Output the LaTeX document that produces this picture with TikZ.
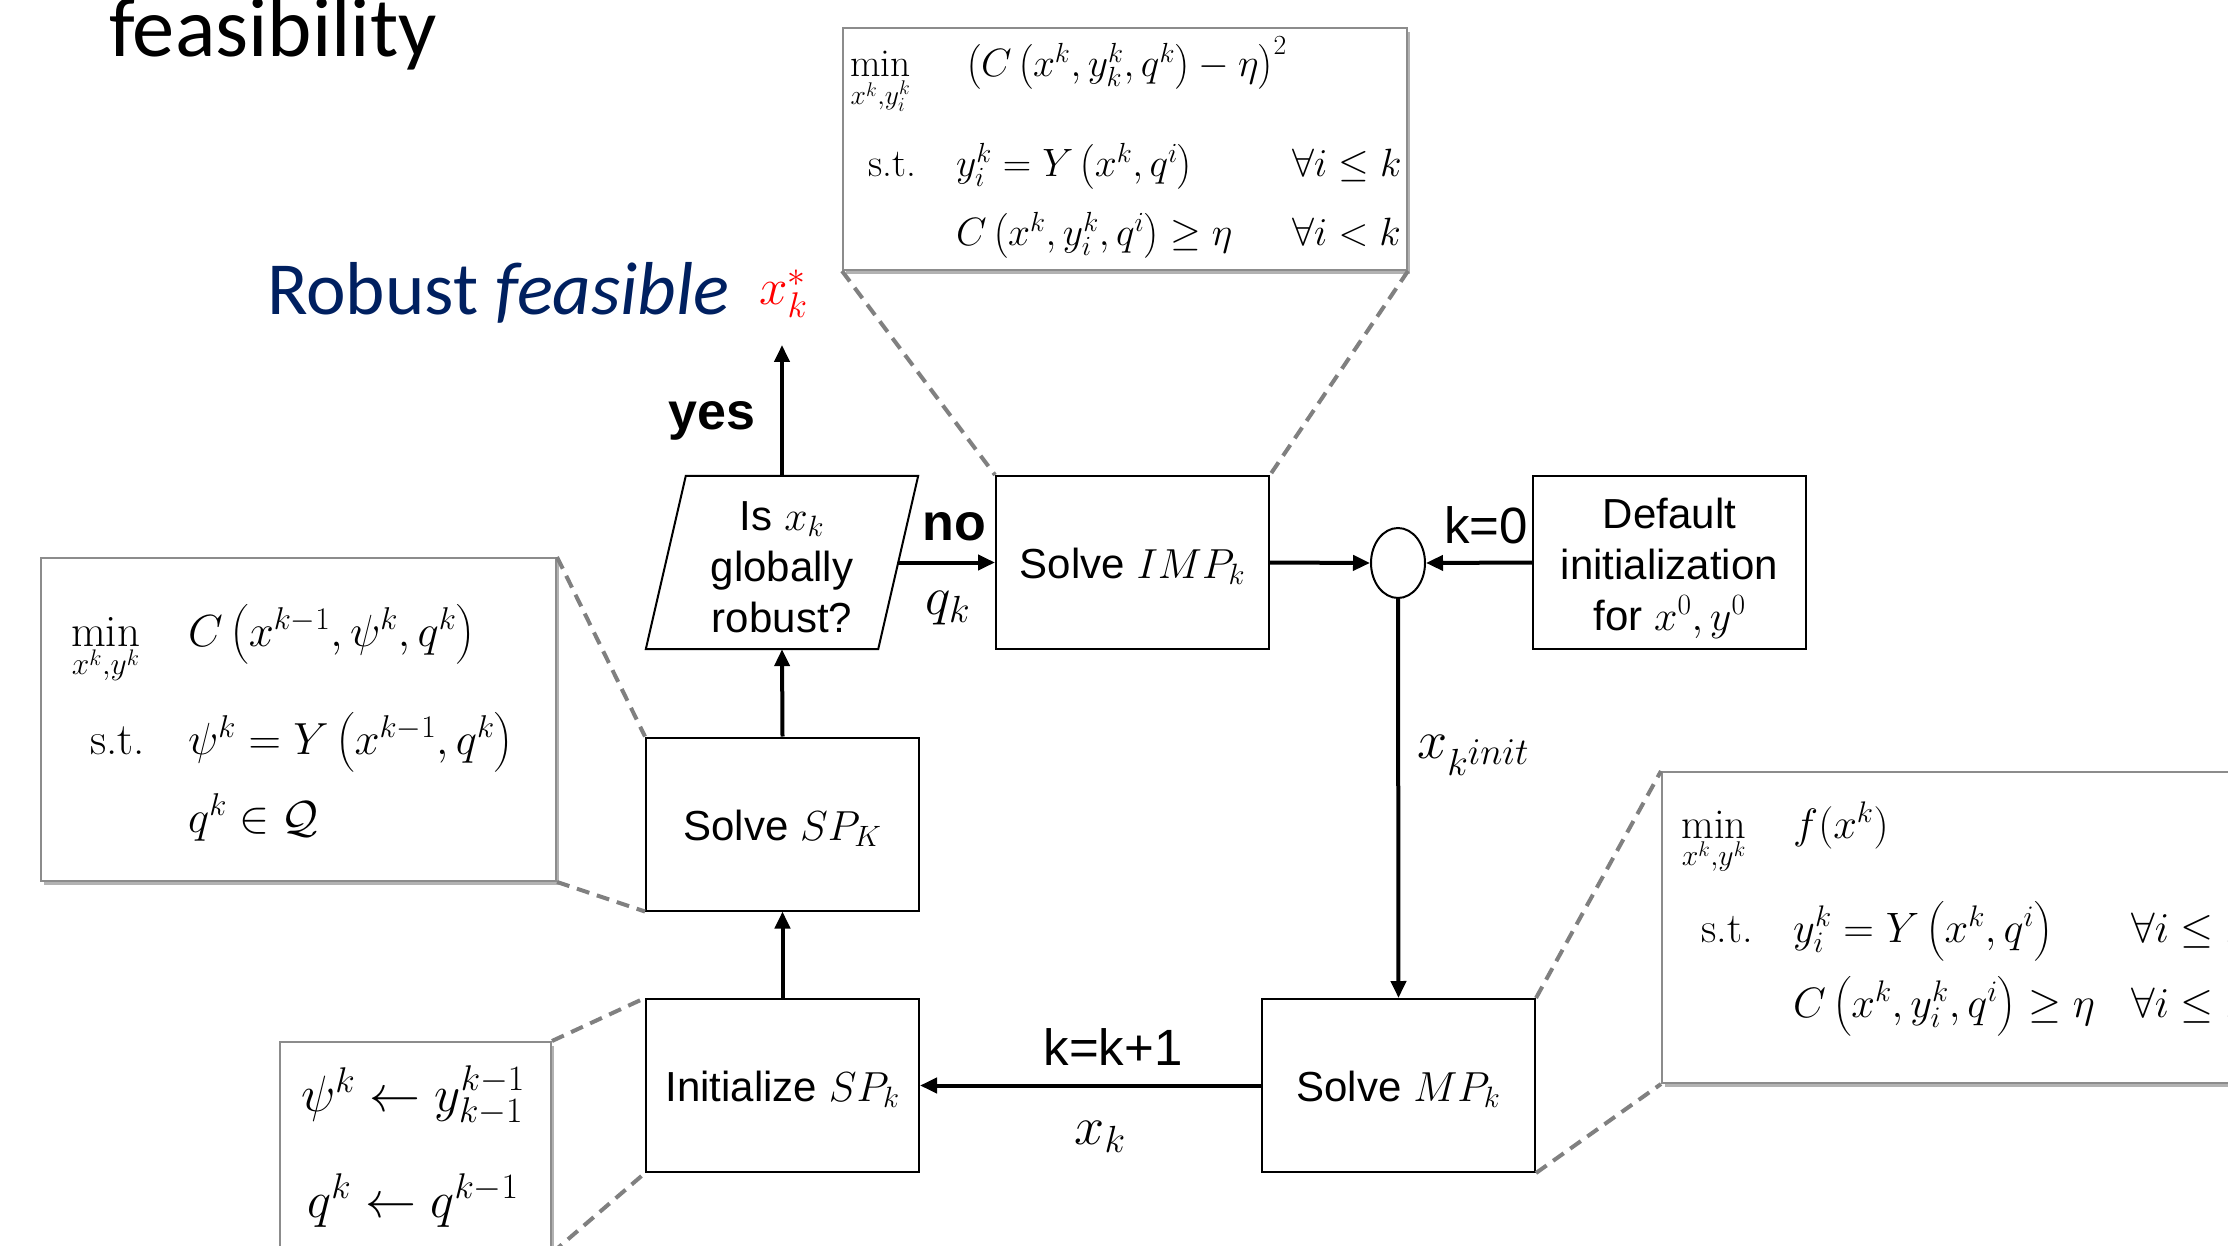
\RequirePackage{fix-cm}
\documentclass[tikz,border=0pt]{standalone}
\usepackage{amsmath}
\usepackage{fontspec}
\newfontfamily\arialf{Liberation Sans}
\newfontfamily\calib{Carlito}
\usetikzlibrary{arrows.meta,shapes.geometric,shadows}
\definecolor{navy}{RGB}{0,32,96}
\definecolor{dgray}{RGB}{128,128,128}
\definecolor{fgray}{RGB}{140,140,140}
\newcommand\fsA{\fontsize{39.5}{47}\selectfont}
\newcommand\fsR{\fontsize{42.5}{50}\selectfont}
\newcommand\fsB{\fontsize{45}{54}\selectfont}
\newcommand\fsC{\fontsize{51}{60}\selectfont}
\newcommand\fsBox{\arialf\fontsize{42}{51}\selectfont}
\newcommand\fsLab{\arialf\fontsize{51}{60}\selectfont}
\tikzset{
  flowbox/.style={draw, line width=2pt, minimum width=273pt, minimum height=173pt, align=center, font=\fsBox, inner sep=0pt, text height=40pt, text depth=8pt},
  arr/.style={line width=4pt, -{Triangle[length=17pt,width=15pt]}},
  dsh/.style={draw=dgray, line width=4pt, dash pattern=on 13pt off 8pt},
  fbox/.style={draw=fgray, line width=2pt, fill=white, inner sep=0pt,
     drop shadow={shadow xshift=3pt, shadow yshift=-4pt, opacity=0.3, fill=black}},
  mtxt/.style={inner sep=0pt, anchor=base west},
}
\begin{document}
\begin{tikzpicture}[x=1pt,y=-1pt]
\useasboundingbox (0,0) rectangle (2228,1246);
\clip (0,0) rectangle (2228,1246);
\fill[white] (0,0) rectangle (2228,1246);

% titles
\node[mtxt, font=\calib\fontsize{84.5}{100}\selectfont] (title) at (109,57) {feasibility};
\node[mtxt, font=\calib\fontsize{75}{90}\selectfont, text=navy] (robust) at (267,315) {Robust \textit{feasible}};
\node[mtxt, font=\fontsize{51}{60}\selectfont, text=red] (xstar) at (759,305) {$x_k^*$};

% formula boxes
\node[fbox, minimum width=564pt, minimum height=242pt] (topf) at (1125,149) {};
\node[fbox, minimum width=515pt, minimum height=323pt] (leftf) at (298.5,719.5) {};
\node[fbox, minimum width=638pt, minimum height=311pt] (rightf) at (1981,927.5) {};
\node[fbox, minimum width=271pt, minimum height=210pt] (blf) at (415.5,1147) {};

% top box content
\begin{scope}[every node/.style={mtxt, font=\fsA}]
\node (t11) at (850,77) {$\displaystyle\min_{x^k,y_i^k}$};
\node (t12) at (966,77) {$\left(C\left(x^k,y_k^k,q^k\right)-\eta\right)^2$};
\node (t21) at (868,177) {s.t.};
\node (t22) at (956,177) {$y_i^k=Y\left(x^k,q^i\right)$};
\node (t23) at (1292,177) {$\forall i\le k$};
\node (t32) at (956,246) {$C\left(x^k,y_i^k,q^i\right)\ge\eta$};
\node (t33) at (1292,246) {$\forall i<k$};
\end{scope}

% left box content
\begin{scope}[every node/.style={mtxt, font=\fsB}]
\node (l11) at (71,646) {$\displaystyle\min_{x^k,y^k}$};
\node (l12) at (188,646) {$C\left(x^{k-1},\psi^k,q^k\right)$};
\node (l21) at (90,754) {s.t.};
\node (l22) at (188,754) {$\psi^k=Y\left(x^{k-1},q^k\right)$};
\node (l32) at (188,832) {$q^k\in\mathcal{Q}$};
\end{scope}

% right box content
\begin{scope}[every node/.style={mtxt, font=\fsR}]
\node (r11) at (1681,838) {$\displaystyle\min_{x^k,y^k}$};
\node (r12) at (1793,838) {$f(x^k)$};
\node (r21) at (1701,942) {s.t.};
\node (r22) at (1793,942) {$y_i^k=Y\left(x^k,q^i\right)$};
\node (r23) at (2131,942) {$\forall i\le k$};
\node (r32) at (1793,1017) {$C\left(x^k,y_i^k,q^i\right)\ge\eta$};
\node (r33) at (2131,1017) {$\forall i\le k$};
\end{scope}

% bottom-left box content
\node[inner sep=0pt, anchor=base, font=\fsC] (b1) at (413,1111) {$\psi^k\leftarrow y_{k-1}^{k-1}$};
\node[inner sep=0pt, anchor=base, font=\fsC] (b2) at (413,1217) {$q^k\leftarrow q^{k-1}$};

% flow nodes
\node[flowbox] (imp) at (1132.5,562.5) {Solve $IMP_k$};
\node[draw, line width=2pt, minimum width=273pt, minimum height=173pt] (def) at (1669.5,562.5) {};
\node[align=center, font=\fsBox, inner sep=0pt] (deftxt) at (1669.5,568) {Default\\initialization\\for $x^0,y^0$};
\node[flowbox] (sp) at (782.5,824) {Solve $SP_K$};
\node[flowbox] (init) at (782.5,1085.5) {Initialize $SP_k$};
\node[flowbox] (mp) at (1398.5,1085.5) {Solve $MP_k$};
\node[minimum width=232pt, minimum height=173pt, inner sep=0pt] (dec) at (782,562.5) {};
\node[align=center, font=\fsBox, inner sep=0pt] (dectxt) at (782,567) {Is $x_k$\\globally\\robust?};
\draw[line width=2pt, line join=miter] ([xshift=-20pt]dec.south west) -- ([xshift=-20pt]dec.south east) -- ([xshift=20pt]dec.north east) -- ([xshift=20pt]dec.north west) -- cycle;
\node[draw, ellipse, line width=2pt, minimum width=54pt, minimum height=70pt, inner sep=0pt] (junc) at (1398,563) {};
\coordinate (out) at (782,345);

% dashed callout lines
\draw[dsh] (topf.south west) -- (imp.north west);
\draw[dsh] (topf.south east) -- (imp.north east);
\draw[dsh] (leftf.north east) -- (sp.north west);
\draw[dsh] (leftf.south east) -- (sp.south west);
\draw[dsh] (blf.north east) -- (init.north west);
\draw[dsh] (blf.south east) -- (init.south west);
\draw[dsh] (mp.north east) -- (rightf.north west);
\draw[dsh] (mp.south east) -- (rightf.south west);

% arrows
\draw[arr] (dec.north) -- (out);
\draw[arr] (dec.east) -- (imp.west);
\draw[arr] (imp.east) -- (junc.west);
\draw[arr] (def.west) -- (junc.east);
\draw[arr] (junc.south) -- (mp.north);
\draw[arr] (mp.west) -- (init.east);
\draw[arr] (init.north) -- (sp.south);
\draw[arr] (sp.north) -- (dec.south);

% labels
\node[inner sep=0pt, anchor=base, font=\arialf\bfseries\fontsize{52}{60}\selectfont] (yes) at (712,429) {yes};
\node[inner sep=0pt, anchor=base, font=\arialf\bfseries\fontsize{52}{60}\selectfont] (no) at (954,540) {no};
\node[inner sep=0pt, font=\fontsize{54}{60}\selectfont] (qk) at (948,608) {$q_k$};
\node[inner sep=0pt, anchor=base, font=\fsLab] (k0) at (1486,543) {k=0};
\node[inner sep=0pt, anchor=base, font=\fsLab] (kk) at (1113,1065) {k=k+1};
\node[inner sep=0pt, font=\fontsize{54}{60}\selectfont] (xk) at (1100,1137) {$x_k$};
\node[inner sep=0pt, anchor=west, font=\fontsize{54}{60}\selectfont] (xinit) at (1417,755) {$x_{k^{\scriptstyle init}}$};
\end{tikzpicture}
\end{document}
